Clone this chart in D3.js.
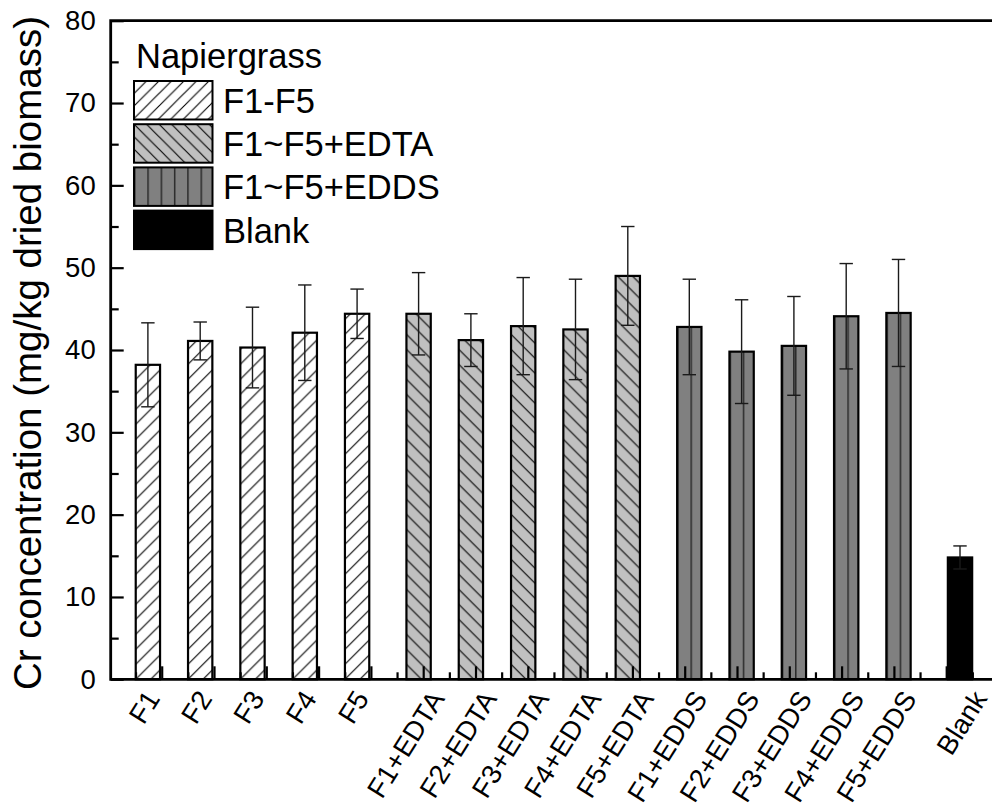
<!DOCTYPE html>
<html>
<head>
<meta charset="utf-8">
<script src="https://cdn.jsdelivr.net/npm/d3@7"></script>
<style>
  html, body { margin: 0; padding: 0; background: #fff; }
  svg { display: block; font-family: Arial, "Liberation Sans", Helvetica, sans-serif; }
</style>
</head>
<body>
<svg id="chart" width="992" height="807"></svg>
<script>
// ---------------- data ----------------
const categories = ["F1","F2","F3","F4","F5",
  "F1+EDTA","F2+EDTA","F3+EDTA","F4+EDTA","F5+EDTA",
  "F1+EDDS","F2+EDDS","F3+EDDS","F4+EDDS","F5+EDDS","Blank"];
const seriesNames = ["F1-F5","F1~F5+EDTA","F1~F5+EDDS","Blank"];
const categorySeries = ["F1-F5","F1-F5","F1-F5","F1-F5","F1-F5",
  "F1~F5+EDTA","F1~F5+EDTA","F1~F5+EDTA","F1~F5+EDTA","F1~F5+EDTA",
  "F1~F5+EDDS","F1~F5+EDDS","F1~F5+EDDS","F1~F5+EDDS","F1~F5+EDDS","Blank"];
const values = [38.2, 41.1, 40.3, 42.1, 44.4,
  44.4, 41.2, 42.9, 42.5, 49.0,
  42.8, 39.8, 40.5, 44.1, 44.5, 14.8];
const errors = [5.1, 2.3, 4.9, 5.8, 3.0,
  5.0, 3.2, 5.9, 6.1, 6.0,
  5.8, 6.3, 6.0, 6.4, 6.5, 1.4];
const yTicks = [0, 10, 20, 30, 40, 50, 60, 70, 80];
const yMinorTicks = [5, 15, 25, 35, 45, 55, 65, 75];
const legendTitle = "Napiergrass";
const yTitle = "Cr concentration (mg/kg dried biomass)";

// ---------------- layout / style ----------------
const W = 992, H = 807;
const frame = { left: 110.7, right: 992, top: 20.7, bottom: 679.3 };
const seriesStyle = {
  "F1-F5":      { fill: "#ffffff", hatch: "fwd",  color: "#000" },
  "F1~F5+EDTA": { fill: "#c0c0c0", hatch: "back", color: "#000" },
  "F1~F5+EDDS": { fill: "#808080", hatch: "vert", color: "#2a2a2a" },
  "Blank":      { fill: "#000000", hatch: null,   color: "#000" }
};

const svg = d3.select("#chart");
const defs = svg.append("defs");

const idx = d3.range(categories.length);
const x = d3.scaleLinear().domain([0, 15]).range([161.7, 946.2]);
const step = x(1) - x(0);
const seriesBand = d3.scaleBand().domain(seriesNames).range([-0.352, 0.352]);
const barW = 0.465 * step;
const barCenter = i => x(i) + (seriesBand(categorySeries[i]) + seriesBand.bandwidth() / 2) * step;
const y = d3.scaleLinear().domain([0, 80]).range([frame.bottom, frame.top]);

// pattern builder
function makePattern(id, style, ox, oy, s) {
  if (!style.hatch) return style.fill;
  const p = defs.append("pattern").attr("id", id)
    .attr("patternUnits", "userSpaceOnUse")
    .attr("x", ox).attr("y", oy);
  if (style.hatch === "vert") {
    const sv = 13.3;
    p.attr("width", sv).attr("height", 10);
    p.append("rect").attr("width", sv).attr("height", 10).attr("fill", style.fill);
    p.append("line").attr("x1", 0.7).attr("x2", 0.7).attr("y1", 0).attr("y2", 10)
      .attr("stroke", style.color).attr("stroke-width", 1.6);
  } else {
    p.attr("width", s).attr("height", s);
    p.append("rect").attr("width", s).attr("height", s).attr("fill", style.fill);
    const d = style.hatch === "fwd"
      ? `M0,${s} L${s},0 M${-s/2},${s/2} L${s/2},${-s/2} M${s/2},${s*1.5} L${s*1.5},${s/2}`
      : `M0,0 L${s},${s} M${-s/2},${s/2} L${s/2},${s*1.5} M${s/2},${-s/2} L${s*1.5},${s/2}`;
    p.append("path").attr("d", d).attr("stroke", style.color).attr("stroke-width", 1.1)
      .attr("fill", "none");
  }
  return `url(#${id})`;
}

// ---------------- bars ----------------
const gBars = svg.append("g");
idx.forEach(i => {
  const st = seriesStyle[categorySeries[i]];
  const bx = barCenter(i) - barW / 2;
  const fill = makePattern("pat" + i, st, bx, frame.bottom, 15);
  gBars.append("rect")
    .attr("x", bx).attr("y", y(values[i]))
    .attr("width", barW).attr("height", y(0) - y(values[i]))
    .attr("fill", fill).attr("stroke", "#000").attr("stroke-width", 2.2);
});

// error bars
const gErr = svg.append("g").attr("stroke", "#1a1a1a").attr("stroke-width", 1.4);
idx.forEach(i => {
  const cx = barCenter(i);
  const hi = y(values[i] + errors[i]), lo = y(values[i] - errors[i]);
  gErr.append("line").attr("x1", cx).attr("x2", cx).attr("y1", hi).attr("y2", lo);
  gErr.append("line").attr("x1", cx - 6.7).attr("x2", cx + 6.7).attr("y1", hi).attr("y2", hi);
  gErr.append("line").attr("x1", cx - 6.7).attr("x2", cx + 6.7).attr("y1", lo).attr("y2", lo);
});

// ---------------- axes ----------------
const gx = svg.append("g").attr("transform", `translate(0,${frame.bottom})`)
  .call(d3.axisBottom(x).tickValues(idx).tickSize(-13).tickFormat(""));
gx.select(".domain").remove();
gx.selectAll("line").attr("stroke", "#000").attr("stroke-width", 2.2);
const gx2 = svg.append("g").attr("transform", `translate(0,${frame.bottom})`)
  .call(d3.axisBottom(x).tickValues(d3.range(-0.5, 16, 1)).tickSize(-7).tickFormat(""));
gx2.select(".domain").remove();
gx2.selectAll("line").attr("stroke", "#000").attr("stroke-width", 2.2);

const gy = svg.append("g").attr("transform", `translate(${frame.left},0)`)
  .call(d3.axisLeft(y).tickValues(yTicks).tickSize(-13).tickPadding(15).tickFormat(d3.format("d")));
gy.select(".domain").remove();
gy.selectAll("line").attr("stroke", "#000").attr("stroke-width", 2.2);
gy.selectAll("text").attr("font-size", 27.5).attr("fill", "#000")
  .attr("font-family", "Arial, 'Liberation Sans', sans-serif");
const gy2 = svg.append("g").attr("transform", `translate(${frame.left},0)`)
  .call(d3.axisLeft(y).tickValues(yMinorTicks).tickSize(-8).tickFormat(""));
gy2.select(".domain").remove();
gy2.selectAll("line").attr("stroke", "#000").attr("stroke-width", 2.2);

const gf = svg.append("g").attr("stroke", "#000").attr("stroke-width", 2.8).attr("fill", "none");
gf.append("path").attr("d",
  `M${frame.right},${frame.top} H${frame.left} V${frame.bottom} H${frame.right}`)
  .attr("stroke-linecap", "square");

// x category labels (rotated)
const angle = 58;
const rad = angle * Math.PI / 180;
const xfs = 27.5;
const gxl = svg.append("g");
idx.forEach(i => {
  const t = gxl.append("text").text(categories[i])
    .attr("font-size", xfs).attr("fill", "#000")
    .attr("text-anchor", "middle").attr("dominant-baseline", "central");
  const L = t.node().getComputedTextLength();
  const capH = xfs * 0.72;
  const Hb = L * Math.sin(rad) + capH * Math.cos(rad);
  const shift = categories[i] === "Blank" ? 15.5 : -17.5;
  const cx = x(i) + shift;
  const cy = frame.bottom + 9 + Hb / 2;
  t.attr("transform", `translate(${cx},${cy}) rotate(${-angle})`);
});

// y title
svg.append("text").text(yTitle)
  .attr("font-size", 38.5).attr("fill", "#000")
  .attr("text-anchor", "middle")
  .attr("transform", `translate(41,353) rotate(-90)`);

// ---------------- legend ----------------
const lg = svg.append("g");
lg.append("text").text(legendTitle).attr("x", 136).attr("y", 68)
  .attr("font-size", 34.5).attr("fill", "#000");
const swW = 78.5, swH = 38.5, swX = 134, swY0 = 81, swStep = 43.2;
seriesNames.forEach((s, k) => {
  const st = seriesStyle[s];
  const yy = swY0 + k * swStep;
  const fill = makePattern("lpat" + k, st, swX, yy, 12.5);
  lg.append("rect").attr("x", swX).attr("y", yy).attr("width", swW).attr("height", swH)
    .attr("fill", fill).attr("stroke", "#000").attr("stroke-width", 2);
  lg.append("text").text(s).attr("x", 223).attr("y", yy + 32)
    .attr("font-size", 34.5).attr("fill", "#000");
});
</script>
</body>
</html>
